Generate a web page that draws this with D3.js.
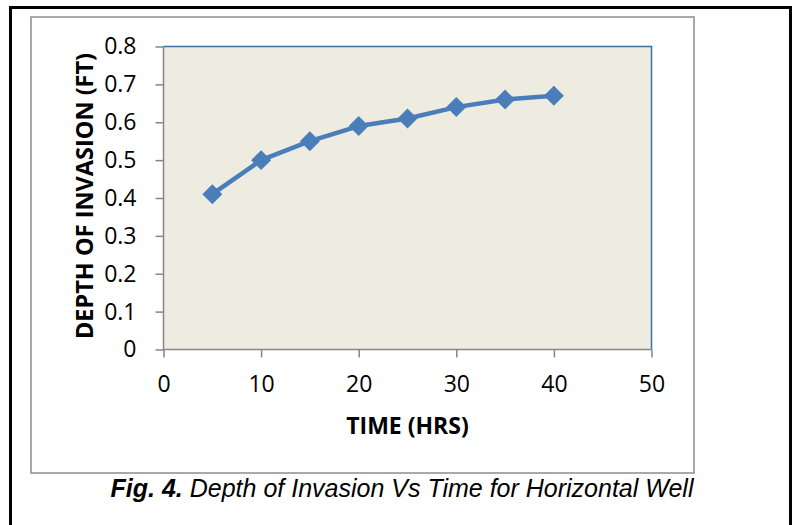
<!DOCTYPE html>
<html>
<head>
<meta charset="utf-8">
<script src="https://cdn.jsdelivr.net/npm/d3@7"></script>
<style>
  html, body { margin: 0; padding: 0; background: #ffffff; }
  svg { display: block; }
</style>
</head>
<body>
<svg id="chart" width="799" height="525"></svg>
<script>
// ---- data ----
const timeHrs = [5, 10, 15, 20, 25, 30, 35, 40];
const depthFt = [0.41, 0.50, 0.55, 0.59, 0.61, 0.64, 0.66, 0.67];
const xTicks = [0, 10, 20, 30, 40, 50];
const yTicks = [0, 0.1, 0.2, 0.3, 0.4, 0.5, 0.6, 0.7, 0.8];
const xTitle = "TIME (HRS)";
const yTitle = "DEPTH OF INVASION (FT)";
const captionBold = "Fig. 4.";
const captionRest = " Depth of Invasion Vs Time for Horizontal Well";

const svg = d3.select("#chart");

// outer black frame
svg.append("rect")
  .attr("x", 10.5).attr("y", 7.5)
  .attr("width", 780).attr("height", 540)
  .attr("fill", "none").attr("stroke", "#000").attr("stroke-width", 3);

// inner chart frame
svg.append("rect")
  .attr("x", 31).attr("y", 17)
  .attr("width", 663).attr("height", 456)
  .attr("fill", "#fff").attr("stroke", "#8c8c8c").attr("stroke-width", 1.5);

const plot = { left: 163.5, right: 651.5, top: 46.5, bottom: 349.5 };

const x = d3.scaleLinear().domain([0, 50]).range([plot.left, plot.right]);
const y = d3.scaleLinear().domain([0, 0.8]).range([plot.bottom, plot.top]);

// plot area
svg.append("rect")
  .attr("x", plot.left).attr("y", plot.top)
  .attr("width", plot.right - plot.left).attr("height", plot.bottom - plot.top)
  .attr("fill", "#EEECE1");

// blue top/right border
svg.append("path")
  .attr("d", `M${plot.left},${plot.top}H${plot.right}V${plot.bottom}`)
  .attr("fill", "none").attr("stroke", "#3f6ea6").attr("stroke-width", 1.5);

// axes
const xAxis = d3.axisBottom(x).tickValues(xTicks).tickSize(8).tickPadding(18)
  .tickFormat(d3.format("d"));
const yAxis = d3.axisLeft(y).tickValues(yTicks).tickSize(8).tickPadding(19)
  .tickFormat(d => d === 0 ? "0" : d3.format(".1f")(d));

const gx = svg.append("g").attr("transform", `translate(0,${plot.bottom})`).call(xAxis);
const gy = svg.append("g").attr("transform", `translate(${plot.left},0)`).call(yAxis);

[gx, gy].forEach(g => {
  g.select(".domain").attr("stroke", "#868686").attr("stroke-width", 1.5);
  g.selectAll(".tick line").attr("stroke", "#868686").attr("stroke-width", 1.5);
  g.selectAll(".tick text")
    .attr("fill", "#000")
    .style("font-family", "'Open Sans', sans-serif")
    .style("font-size", "23px");
});
gx.select(".domain").attr("d", `M${plot.left},0H${plot.right}`);
gy.select(".domain").attr("d", `M0,${plot.bottom}V${plot.top}`);

// axis titles
svg.append("text")
  .attr("x", (plot.left + plot.right) / 2).attr("y", 434)
  .attr("text-anchor", "middle")
  .style("font-family", "'Open Sans', sans-serif")
  .style("font-weight", "bold").style("font-size", "23px")
  .text(xTitle);

svg.append("text")
  .attr("transform", `translate(93,${(plot.top + plot.bottom) / 2 - 2}) rotate(-90)`)
  .attr("text-anchor", "middle")
  .style("font-family", "'Open Sans', sans-serif")
  .style("font-weight", "bold").style("font-size", "23.5px")
  .text(yTitle);

// series line
const data = timeHrs.map((t, i) => ({ t, v: depthFt[i] }));
svg.append("path")
  .datum(data)
  .attr("fill", "none")
  .attr("stroke", "#4A7EBB")
  .attr("stroke-width", 4.5)
  .attr("stroke-linejoin", "round")
  .attr("d", d3.line().x(d => x(d.t)).y(d => y(d.v)));

// diamond markers
const sym = d3.symbol().type(d3.symbolSquare).size(200);
svg.selectAll(".marker").data(data).join("path")
  .attr("class", "marker")
  .attr("transform", d => `translate(${x(d.t)},${y(d.v)}) rotate(45)`)
  .attr("d", sym)
  .attr("fill", "#4A7EBB");

// caption
const cap = svg.append("text")
  .attr("x", 402).attr("y", 497)
  .attr("text-anchor", "middle")
  .style("font-family", "'Liberation Sans', Arial, sans-serif")
  .style("font-style", "italic").style("font-size", "25px")
  .attr("fill", "#000");
cap.append("tspan").style("font-weight", "bold").text(captionBold);
cap.append("tspan").text(captionRest);
</script>
</body>
</html>
